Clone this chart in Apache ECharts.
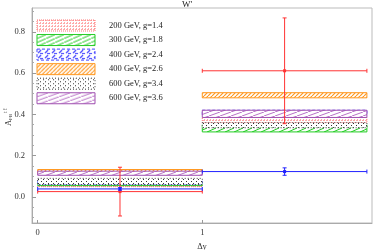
<!DOCTYPE html>
<html><head><meta charset="utf-8">
<script src="https://cdn.jsdelivr.net/npm/echarts@6/dist/echarts.min.js"></script>
<style>html,body{margin:0;padding:0;background:#fff}#c{width:374px;height:250px}</style>
</head><body><div id="c"></div>
<script>
// ---- data ----
const binEdges = [[0, 1], [1, 2]];
const modelNames = ['200 GeV, g=1.4', '300 GeV, g=1.8', '400 GeV, g=2.4', '400 GeV, g=2.6', '600 GeV, g=3.4', '600 GeV, g=3.6'];
// [low, high] per bin
const band200_14 = [[0.050, 0.065], [0.360, 0.385]];
const band300_18 = [[0.055, 0.075], [0.315, 0.350]];
const band400_24 = [[0.060, 0.080], [0.395, 0.420]];
const band400_26 = [[0.115, 0.133], [0.480, 0.505]];
const band600_34 = [[0.060, 0.090], [0.335, 0.360]];
const band600_36 = [[0.105, 0.125], [0.385, 0.420]];
// measurement (CDF) and prediction: centre, error
const dataCenters = [0.5, 1.5];
const cdfValues = [0.026, 0.611];
const cdfErrors = [0.118, 0.256];
const mcfmValues = [0.039, 0.123];
const mcfmErrors = [0.006, 0.018];
const xTickValues = [0, 1];
const yTickValues = [0, 0.2, 0.4, 0.6, 0.8];
const yMinorTickValues = [-0.1, -0.05, 0.05, 0.1, 0.15, 0.25, 0.3, 0.35, 0.45, 0.5, 0.55, 0.65, 0.7, 0.75, 0.85, 0.9];

// ---- patterns ----
function mk(w, h, draw) {
  const c = document.createElement('canvas'); c.width = w; c.height = h;
  const g = c.getContext('2d'); g.fillStyle = '#fff'; g.fillRect(0, 0, w, h); draw(g);
  return { image: c, repeat: 'repeat' };
}
function hatch(w, h, color, lw, dash) {
  return mk(w, h, g => {
    g.strokeStyle = color; g.lineWidth = lw;
    if (dash) g.setLineDash(dash);
    for (let k = -1; k <= 1; k++) {
      g.beginPath(); g.moveTo(k * w, h); g.lineTo(k * w + w, 0); g.stroke();
    }
  });
}
const pat = [
  mk(3, 3, g => { g.fillStyle = '#ffaaaa'; g.fillRect(0, 0, 1, 1); g.fillRect(0, 2, 1, 1); g.fillRect(2, 0, 1, 1); }),
  hatch(9, 4, '#22cc22', 1),
  mk(7, 5, g => { g.strokeStyle = '#4444ff'; g.lineWidth = 1.2; g.beginPath(); g.moveTo(1, 4); g.lineTo(4, 1); g.stroke(); g.beginPath(); g.moveTo(3, 4.5); g.lineTo(6, 4.5); g.stroke(); }),
  hatch(4, 4, '#ff9922', 1.2),
  mk(5, 4, g => { g.fillStyle = '#333'; g.fillRect(1, 1, 1, 1); g.fillRect(3, 3, 1, 1); }),
  hatch(11, 4, '#b060c0', 0.9)
];
const strokes = ['#ff7777', '#22cc22', '#4444ff', '#ff9922', '#444444', '#a050b0'];
const dashes = [[1, 1], null, [3, 2], null, [1, 2], null];
const bandSets = [band200_14, band300_18, band400_24, band400_26, band600_34, band600_36];

function bandSeries(i) {
  const data = bandSets[i].map((b, k) => [binEdges[k][0], binEdges[k][1], b[0], b[1]]);
  return {
    type: 'custom', name: modelNames[i], data, z: 2 + i,
    encode: { x: [0, 1], y: [2, 3] },
    renderItem(params, api) {
      const p0 = api.coord([api.value(0), api.value(3)]);
      const p1 = api.coord([api.value(1), api.value(2)]);
      return {
        type: 'rect',
        shape: { x: p0[0], y: p0[1], width: p1[0] - p0[0], height: p1[1] - p0[1] },
        style: { fill: pat[i], stroke: strokes[i], lineWidth: 1, lineDash: dashes[i] }
      };
    }
  };
}
function errSeries(name, vals, errs, color, z) {
  const data = vals.map((v, k) => [dataCenters[k], v, binEdges[k][0], binEdges[k][1], v - errs[k], v + errs[k]]);
  return {
    type: 'custom', name, data, z,
    encode: { x: [0, 2, 3], y: [1, 4, 5] },
    renderItem(params, api) {
      const c = api.coord([api.value(0), api.value(1)]);
      const l = api.coord([api.value(2), api.value(1)]);
      const r = api.coord([api.value(3), api.value(1)]);
      const lo = api.coord([api.value(0), api.value(4)]);
      const hi = api.coord([api.value(0), api.value(5)]);
      const st = { stroke: color, lineWidth: 1 };
      const cap = 2;
      return {
        type: 'group', children: [
          { type: 'line', shape: { x1: l[0], y1: l[1], x2: r[0], y2: r[1] }, style: st },
          { type: 'line', shape: { x1: l[0], y1: l[1] - cap, x2: l[0], y2: l[1] + cap }, style: st },
          { type: 'line', shape: { x1: r[0], y1: r[1] - cap, x2: r[0], y2: r[1] + cap }, style: st },
          { type: 'line', shape: { x1: lo[0], y1: lo[1], x2: hi[0], y2: hi[1] }, style: st },
          { type: 'line', shape: { x1: lo[0] - cap, y1: lo[1], x2: lo[0] + cap, y2: lo[1] }, style: st },
          { type: 'line', shape: { x1: hi[0] - cap, y1: hi[1], x2: hi[0] + cap, y2: hi[1] }, style: st },
          { type: 'rect', shape: { x: c[0] - 1.5, y: c[1] - 1.5, width: 3, height: 3 }, style: { fill: color } }
        ]
      };
    }
  };
}

const font = 'Liberation Serif';
const legendGraphics = [];
modelNames.forEach((n, i) => {
  const top = 20 + i * 14.55;
  legendGraphics.push({ type: 'rect', x: 37, y: top, shape: { x: 0, y: 0, width: 58, height: 11 },
    style: { fill: pat[i], stroke: strokes[i], lineWidth: 1, lineDash: dashes[i] }, z: 20 });
  legendGraphics.push({ type: 'text', x: 109, y: top + 5.5, style: { text: n, font: '8.5px "' + font + '"', fill: '#222', verticalAlign: 'middle' }, z: 20 });
});
legendGraphics.push({
  type: 'group', x: 9, y: 116, rotation: Math.PI / 2, z: 20,
  children: [
    { type: 'text', x: -10, y: 0, style: { text: 'A', font: '8.5px "' + font + '"', fill: '#333', verticalAlign: 'middle' } },
    { type: 'text', x: -4, y: 2, style: { text: 'FB', font: '5px "' + font + '"', fill: '#333', verticalAlign: 'middle' } },
    { type: 'text', x: 3, y: -3, style: { text: 't t\u0304', font: '5.5px "' + font + '"', fill: '#333', verticalAlign: 'middle' } }
  ]
});

const chart = echarts.init(document.getElementById('c'), null, { renderer: 'canvas' });
const axisLabelStyle = { fontFamily: font, fontSize: 8.5, color: '#333' };
chart.setOption({
  animation: false,
  title: { text: "W'", left: 'center', top: 0, padding: 0, textStyle: { fontFamily: font, fontSize: 9, fontWeight: 'normal', color: '#222' } },
  grid: { left: 32, right: 2, top: 8, bottom: 27, show: true, borderColor: '#bbb', borderWidth: 1, outerBoundsMode: 'none', containLabel: false },
  xAxis: {
    type: 'value', min: -0.0346, max: 2.031,
    name: '\u0394y', nameLocation: 'middle', nameGap: 17, nameTextStyle: axisLabelStyle,
    axisLine: { show: true, onZero: false, lineStyle: { color: '#aaa' } },
    axisTick: { show: true, inside: true, length: 3, customValues: xTickValues, lineStyle: { color: '#999' } },
    axisLabel: { customValues: xTickValues, margin: 5, ...axisLabelStyle },
    splitLine: { show: false }
  },
  yAxis: [{
    type: 'value', min: -0.126, max: 0.915,
    axisLine: { show: true, onZero: false, lineStyle: { color: '#aaa' } },
    axisTick: { show: true, inside: true, length: 4, customValues: yTickValues, lineStyle: { color: '#999' } },
    axisLabel: { customValues: yTickValues, margin: 7, formatter: v => v.toFixed(1), ...axisLabelStyle },
    splitLine: { show: false }
  }, {
    type: 'value', min: -0.126, max: 0.915, position: 'left',
    axisLine: { show: false, onZero: false },
    axisTick: { show: true, inside: true, length: 2, customValues: yMinorTickValues, lineStyle: { color: '#aaa' } },
    axisLabel: { show: false }, splitLine: { show: false }
  }],
  graphic: legendGraphics,
  series: [0, 1, 2, 3, 4, 5].map(bandSeries).concat([
    errSeries('CDF', cdfValues, cdfErrors, '#ff3333', 30),
    errSeries('MCFM', mcfmValues, mcfmErrors, '#2222ff', 31)
  ])
});
</script></body></html>
